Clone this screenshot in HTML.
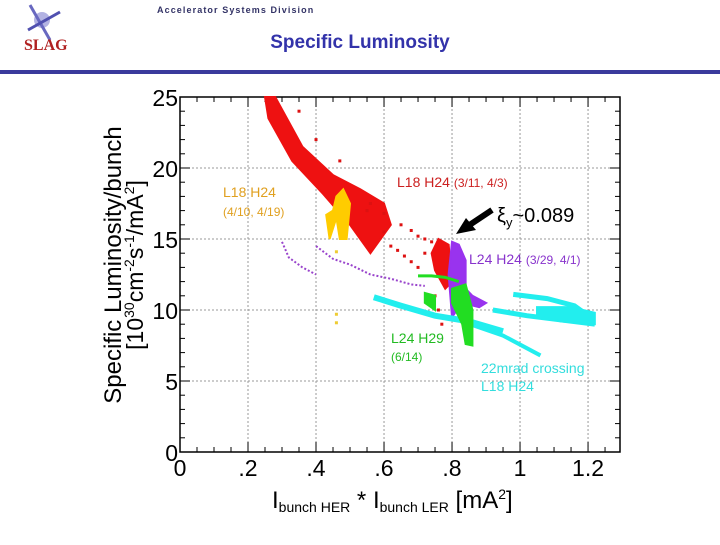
<!DOCTYPE html>
<html><head><meta charset="utf-8"><style>
body{margin:0;background:#fff;width:720px;height:540px;overflow:hidden;font-family:"Liberation Sans",sans-serif}
</style></head><body>
<svg width="720" height="540" xmlns="http://www.w3.org/2000/svg" font-family="Liberation Sans, sans-serif">
<g>
<circle cx="42" cy="20" r="8" fill="#8080d0" opacity="0.6"/>
<line x1="30" y1="5" x2="50" y2="40" stroke="#6868c0" stroke-width="3"/>
<line x1="28" y1="30" x2="60" y2="12" stroke="#5050b0" stroke-width="3"/>
<text x="24" y="50" font-family="Liberation Serif, serif" font-size="16" font-weight="bold" fill="#b02020">SLAG</text>
</g>
<text x="157" y="13" font-size="9" font-weight="bold" fill="#333366" letter-spacing="1.1">Accelerator Systems Division</text>
<text x="360" y="48" text-anchor="middle" font-size="19" font-weight="bold" fill="#3333aa">Specific Luminosity</text>
<rect x="0" y="70" width="720" height="4" fill="#3a3a9c"/>
<g id="plot"></g>
<text transform="translate(121,265) rotate(-90)" text-anchor="middle" font-size="24">Specific Luminosity/bunch</text>
<text transform="translate(143,265) rotate(-90)" text-anchor="middle" font-size="23">[10<tspan font-size="14" dy="-9">30</tspan><tspan dy="9">cm</tspan><tspan font-size="14" dy="-9">-2</tspan><tspan dy="9">s</tspan><tspan font-size="14" dy="-9">-1</tspan><tspan dy="9">/mA</tspan><tspan font-size="14" dy="-9">2</tspan><tspan dy="9">]</tspan></text>
<text x="272" y="508" font-size="24">I<tspan font-size="14" dy="4">bunch HER</tspan><tspan dy="-4"> * I</tspan><tspan font-size="14" dy="4">bunch LER</tspan><tspan dy="-4"> [mA</tspan><tspan font-size="14" dy="-9">2</tspan><tspan dy="9">]</tspan></text>
<g font-size="14">
<text x="223" y="197" fill="#e0a020">L18 H24</text>
<text x="223" y="216" fill="#e0a020" font-size="12">(4/10, 4/19)</text>
<text x="397" y="187" fill="#cc2020">L18 H24 <tspan font-size="12">(3/11, 4/3)</tspan></text>
<text x="469" y="264" fill="#8833cc">L24 H24 <tspan font-size="12">(3/29, 4/1)</tspan></text>
<text x="391" y="343" fill="#22bb22">L24 H29</text>
<text x="391" y="361" fill="#22bb22" font-size="12">(6/14)</text>
<text x="481" y="373" fill="#33dddd">22mrad crossing</text>
<text x="481" y="391" fill="#33dddd">L18 H24</text>
</g>
<text x="497" y="222" font-size="20">ξ<tspan font-size="13" dy="5">y</tspan><tspan dy="-5">~0.089</tspan></text>
<g><line x1="492" y1="210" x2="468" y2="226" stroke="#000" stroke-width="6"/><polygon points="456,234 466,218 476,230" fill="#000"/></g>
<script>
const xTicks=[0,0.2,0.4,0.6,0.8,1,1.2];
const xTickLabels=["0",".2",".4",".6",".8","1","1.2"];
const yTicks=[0,5,10,15,20,25];
const yTickLabels=["0","5","10","15","20","25"];
const redBand=[[0.25,25],[0.28,25],[0.36,21.5],[0.45,19.5],[0.53,18.5],[0.6,17.5],[0.62,16],[0.56,14],[0.5,16],[0.42,18.2],[0.33,20.5],[0.26,23.5]];
const redBlob=[[0.76,15],[0.79,14.6],[0.8,12],[0.78,11.5],[0.75,12.8],[0.74,14]];
const redScatter=[[0.56,17.5],[0.6,16.8],[0.65,16],[0.68,15.6],[0.7,15.2],[0.72,15],[0.74,14.8],[0.62,14.5],[0.64,14.2],[0.66,13.8],[0.68,13.4],[0.7,13],[0.75,11],[0.76,10],[0.78,9.5],[0.72,9.8],[0.77,9],[0.35,24],[0.4,22],[0.47,20.5],[0.55,17],[0.6,15.5],[0.72,14]];
const yellowBlob=[[0.46,18],[0.48,18.5],[0.5,17.5],[0.49,15],[0.47,15],[0.46,16.5],[0.44,15],[0.43,16.7],[0.45,17]];
const yellowPts=[[0.46,14.1],[0.46,9.7],[0.46,9.1]];
const purpleLine1=[[0.3,14.8],[0.32,13.7],[0.36,13],[0.4,12.5]];
const purpleLine2=[[0.4,14.5],[0.45,13.6],[0.5,13.2],[0.56,12.5],[0.62,12.2],[0.68,11.8],[0.72,11.7]];
const purpleBlob=[[0.8,14.8],[0.82,14.6],[0.84,13.5],[0.84,11.5],[0.86,11],[0.9,10.5],[0.88,10.2],[0.83,10.5],[0.8,9.5],[0.79,12.5]];
const greenLine=[[0.7,12.4],[0.74,12.4],[0.78,12.3],[0.82,12]];
const greenBlob=[[0.8,11.5],[0.84,11.8],[0.86,10],[0.86,7.5],[0.84,7.6],[0.83,9],[0.8,10.5]];
const greenPatch=[[0.72,11.2],[0.75,11],[0.75,10],[0.72,10.5]];
const cyanLine1=[[0.57,10.9],[0.65,10.3],[0.75,9.6],[0.85,9.2],[0.95,8.5]];
const cyanLine2=[[0.84,9.1],[0.95,8.2],[1.06,6.8]];
const cyanLine3=[[0.92,10],[1.02,9.6],[1.12,9.3],[1.22,9]];
const cyanLine4=[[0.98,11.1],[1.08,10.8],[1.16,10.3],[1.2,9.6]];
const cyanBlob=[[1.05,10.2],[1.15,10.2],[1.22,9.8],[1.22,9],[1.12,9.2],[1.05,9.6]];
const X0=180,X1=620,Y0=452,Y1=97,XMAX=1.294,YMAX=25;
const sx=v=>X0+v/XMAX*(X1-X0), sy=v=>Y0-v/YMAX*(Y0-Y1);
const NS="http://www.w3.org/2000/svg", g=document.getElementById('plot');
function mk(t,a){const e=document.createElementNS(NS,t);for(const k in a)e.setAttribute(k,a[k]);g.appendChild(e);return e;}
const frame=mk('rect',{x:X0,y:Y1,width:X1-X0,height:Y0-Y1,fill:'none',stroke:'#000','stroke-width':1.5});


xTicks.forEach((v,i)=>{
 if(v>0){const gl=mk('line',{x1:sx(v),x2:sx(v),y1:Y1,y2:Y0,stroke:'#999','stroke-dasharray':'2,2'});
 
 }
 const t=mk('text',{x:sx(v),y:476,'text-anchor':'middle','font-size':23});t.textContent=xTickLabels[i];
 
 
});
yTicks.forEach((v,i)=>{
 if(v>0&&v<25){const gl=mk('line',{x1:X0,x2:X1,y1:sy(v),y2:sy(v),stroke:'#999','stroke-dasharray':'2,2'});
 
 }
 const t=mk('text',{x:178,y:sy(v)+9,'text-anchor':'end','font-size':23});t.textContent=yTickLabels[i];
 
 
});
for(let v=0;v<=1.29;v+=0.05){const L=Math.abs(v/0.2-Math.round(v/0.2))<0.01?10:5;
 mk('line',{x1:sx(v),x2:sx(v),y1:Y0,y2:Y0-L,stroke:'#000'});mk('line',{x1:sx(v),x2:sx(v),y1:Y1,y2:Y1+L,stroke:'#000'});}
for(let v=0;v<=25;v++){const L=v%5?5:10;
 mk('line',{x1:X0,x2:X0+L,y1:sy(v),y2:sy(v),stroke:'#000'});mk('line',{x1:X1,x2:X1-L,y1:sy(v),y2:sy(v),stroke:'#000'});}
const pts=a=>a.map(p=>sx(p[0])+','+sy(p[1])).join(' ');
function poly(a,c,n){const e=mk('polygon',{points:pts(a),fill:c,stroke:c,'stroke-width':2});
 
 }
function line(a,c,w,n,dash){const e=mk('polyline',{points:pts(a),fill:'none',stroke:c,'stroke-width':w,'stroke-dasharray':dash||'none'});
 
 }
function dots(a,c,n){a.forEach(p=>{const e=mk('rect',{x:sx(p[0])-1.5,y:sy(p[1])-1.5,width:3,height:3,fill:c});
 
 });}
poly(redBand,'#ee1111','red-cluster');
poly(redBlob,'#ee1111','red-blob');
dots(redScatter,'#dd1111','red-point');
line(purpleLine1,'#9944cc',2,'purple-trace','2,2');
line(purpleLine2,'#9944cc',2,'purple-trace','2,2');
poly(purpleBlob,'#9933ee','purple-cluster');
line(cyanLine1,'#22eeee',6,'cyan-trace');
line(cyanLine2,'#22eeee',4,'cyan-trace');
line(cyanLine3,'#22eeee',5,'cyan-trace');
line(cyanLine4,'#22eeee',5,'cyan-trace');
poly(cyanBlob,'#22eeee','cyan-cluster');
line(greenLine,'#22dd22',3,'green-trace');
poly(greenBlob,'#22dd22','green-cluster');
poly(greenPatch,'#22dd22','green-patch');
poly(yellowBlob,'#ffcc00','yellow-cluster');
dots(yellowPts,'#eecc33','yellow-point');
</script>
</svg>
</body></html>
